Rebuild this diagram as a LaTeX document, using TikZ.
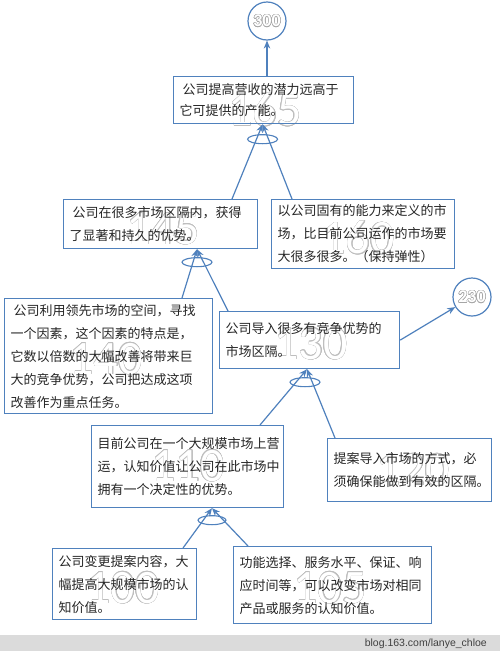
\documentclass[tikz,border=0pt]{standalone}
\usepackage{fontspec}
\usepackage{contour}
\usetikzlibrary{calc,arrows.meta}
\newfontfamily\cjk{Noto Sans CJK SC}
\newfontfamily\ghostfont{Carlito}
\newfontfamily\wmfont{Liberation Sans}
\definecolor{myblue}{RGB}{79,129,189}
\definecolor{ghostgray}{RGB}{190,190,190}
\contourlength{0.45pt}
\contournumber{16}
\begin{document}
\begin{tikzpicture}[x=1pt,y=-1pt,
  box/.style={draw=myblue,line width=1.2pt,inner xsep=6pt,inner ysep=0pt,align=left,anchor=north west,
    font=\cjk\fontsize{13}{23}\selectfont,text=black!85},
  ghost/.style={font=\ghostfont\fontsize{48}{48}\selectfont,inner sep=0pt},
  goal/.style={draw=myblue,line width=1.2pt,circle,minimum size=38pt,inner sep=0pt},
  arr/.style={draw=myblue,line width=1.2pt,-{Stealth[length=8pt,width=6.5pt]}},
  andarc/.style={draw=myblue,line width=1.1pt}]
\useasboundingbox (0,0) rectangle (500,651);
\fill[white] (0,0) rectangle (500,651);
\fill[black!14] (0,635) rectangle (500,651);
\node[anchor=east,font=\wmfont\fontsize{10.5}{12}\selectfont,text=black!75,inner sep=0pt] (wm) at (487,644) {blog.163.com/lanye\_chloe};

% ghost numbers
\node[ghost] (g165) at (265,110) {\contour{ghostgray}{\textcolor{white}{165}}};
\node[ghost] (g145) at (163,229) {\contour{ghostgray}{\textcolor{white}{145}}};
\node[ghost] (g160) at (358,238) {\contour{ghostgray}{\textcolor{white}{160}}};
\node[ghost] (g140) at (106,359) {\contour{ghostgray}{\textcolor{white}{140}}};
\node[ghost] (g130) at (311,344) {\contour{ghostgray}{\textcolor{white}{130}}};
\node[ghost] (g110) at (188,466) {\contour{ghostgray}{\textcolor{white}{110}}};
\node[ghost] (g120) at (413,470) {\contour{ghostgray}{\textcolor{white}{120}}};
\node[ghost] (g100) at (123,588) {\contour{ghostgray}{\textcolor{white}{100}}};
\node[ghost] (g105) at (330,588) {\contour{ghostgray}{\textcolor{white}{105}}};

% goals
\node[goal] (c300) at (267,21) {\contour{black!35}{\textcolor{white}{\ghostfont\bfseries\fontsize{18}{18}\selectfont 300}}};
\node[goal] (c230) at (472,297) {\contour{black!35}{\textcolor{white}{\ghostfont\bfseries\fontsize{18}{18}\selectfont 230}}};

% boxes
\node[box,text width=168pt,minimum height=47pt,font=\cjk\fontsize{13}{21}\selectfont] (b165) at (173,76)
  {\hspace{3pt}公司提高营收的潜力远高于\\它可提供的产能。};
\node[box,text width=182pt,minimum height=49pt] (b145) at (63,199)
  {\hspace{3pt}公司在很多市场区隔内，获得\\了显著和持久的优势。};
\node[box,text width=171pt,minimum height=69pt] (b160) at (271,199)
  {以公司固有的能力来定义的市\\场，比目前公司运作的市场要\\大很多很多。（保持弹性）};
\node[box,text width=196pt,minimum height=115pt] (b140) at (4,298)
  {\hspace{3pt}公司利用领先市场的空间，寻找\\一个因素，这个因素的特点是，\\它数以倍数的大幅改善将带来巨\\大的竞争优势，公司把达成这项\\改善作为重点任务。};
\node[box,text width=168pt,minimum height=57pt] (b130) at (219,311)
  {公司导入很多有竞争优势的\\市场区隔。};
\node[box,text width=180pt,minimum height=82pt] (b110) at (91,425)
  {目前公司在一个大规模市场上营\\运，认知价值让公司在此市场中\\拥有一个决定性的优势。};
\node[box,text width=152pt,minimum height=63pt] (b120) at (327,438)
  {提案导入市场的方式，必\\须确保能做到有效的区隔。};
\node[box,text width=132pt,minimum height=71pt] (b100) at (52,548)
  {公司变更提案内容，大\\幅提高大规模市场的认\\知价值。};
\node[box,text width=186pt,minimum height=77pt] (b105) at (233,546)
  {功能选择、服务水平、保证、响\\应时间等，可以改变市场对相同\\产品或服务的认知价值。};

% junctions
\coordinate (j165) at ($(b165.south)+(-1,0)$);
\coordinate (j145) at ($(b145.south west)+(134,0)$);
\coordinate (j130) at ($(b130.south west)+(88,0)$);
\coordinate (j110) at ($(b110.south west)+(121,0)$);

% connectors
\draw[arr] (c300 |- b165.north) -- (c300.south);
\draw[arr] (b130.east) -- (c230);
\draw[arr] ($(b145.north west)+(169,0)$) -- (j165);
\draw[arr] ($(b160.north west)+(21,0)$) -- (j165);
\draw[arr] ($(b140.north west)+(178,0)$) -- (j145);
\draw[arr] ($(b130.north west)+(9,0)$) -- (j145);
\draw[arr] ($(b110.north west)+(169,0)$) -- (j130);
\draw[arr] ($(b120.north west)+(8,0)$) -- (j130);
\draw[arr] ($(b100.north west)+(131,0)$) -- (j110);
\draw[arr] ($(b105.north west)+(15,0)$) -- (j110);

% and-arcs
\draw[andarc] ($(j165)+(0,15)$) ellipse [x radius=15, y radius=4.5];
\draw[andarc] ($(j145)+(0,13)$) ellipse [x radius=15, y radius=4.5];
\draw[andarc] ($(j130)+(-2,13)$) ellipse [x radius=15, y radius=4.5];
\draw[andarc] ($(j110)+(0,12)$) ellipse [x radius=14, y radius=4.5];
\end{tikzpicture}
\end{document}
